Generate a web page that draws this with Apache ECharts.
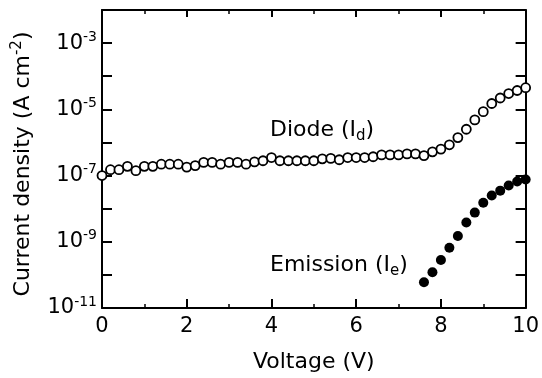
<!DOCTYPE html>
<html>
<head>
<meta charset="utf-8">
<script src="https://cdn.jsdelivr.net/npm/echarts@6/dist/echarts.min.js"></script>
<style>
  html, body { margin: 0; padding: 0; background: #fff; }
  #main { width: 542px; height: 378px; }
</style>
</head>
<body>
<div id="main"></div>
<script>
// voltage steps (V)
let diodeVolts = [0, 0.2, 0.4, 0.6, 0.8, 1.0, 1.2, 1.4, 1.6, 1.8, 2.0, 2.2, 2.4, 2.6, 2.8, 3.0, 3.2, 3.4, 3.6, 3.8,
    4.0, 4.2, 4.4, 4.6, 4.8, 5.0, 5.2, 5.4, 5.6, 5.8, 6.0, 6.2, 6.4, 6.6, 6.8, 7.0, 7.2, 7.4, 7.6, 7.8,
    8.0, 8.2, 8.4, 8.6, 8.8, 9.0, 9.2, 9.4, 9.6, 9.8, 10.0];
// diode current density Id (A cm-2)
let diodeCurrent = [1.0e-7, 1.5e-7, 1.5e-7, 1.9e-7, 1.4e-7, 1.9e-7, 1.9e-7, 2.2e-7, 2.2e-7, 2.2e-7, 1.8e-7, 2.0e-7, 2.5e-7,
    2.5e-7, 2.2e-7, 2.5e-7, 2.5e-7, 2.2e-7, 2.6e-7, 2.8e-7, 3.5e-7, 2.8e-7, 2.8e-7, 2.8e-7, 2.8e-7, 2.8e-7,
    3.2e-7, 3.3e-7, 3.0e-7, 3.5e-7, 3.5e-7, 3.5e-7, 3.7e-7, 4.2e-7, 4.2e-7, 4.2e-7, 4.5e-7, 4.5e-7,
    4.0e-7, 5.2e-7, 6.3e-7, 8.5e-7, 1.4e-6, 2.5e-6, 4.8e-6, 8.5e-6, 1.5e-5, 2.2e-5, 3.0e-5, 3.7e-5, 4.5e-5];
// emission current density Ie (A cm-2)
let emissionVolts = [7.6, 7.8, 8.0, 8.2, 8.4, 8.6, 8.8, 9.0, 9.2, 9.4, 9.6, 9.8, 10.0];
let emissionCurrent = [6.0e-11, 1.2e-10, 2.8e-10, 6.6e-10, 1.5e-9, 3.8e-9, 7.6e-9, 1.5e-8, 2.5e-8, 3.5e-8, 5.0e-8, 6.6e-8, 7.6e-8];

let font = "DejaVu Sans";

function pairs(xs, ys) {
    return xs.map(function (x, i) { return [x, ys[i]]; });
}

let dom = document.getElementById("main");
let myChart = echarts.init(dom, null, { renderer: "canvas" });

let axisLine = { show: true, onZero: false, lineStyle: { color: "#000", width: 2 } };

let option = {
    animation: false,
    backgroundColor: "#fff",
    grid: { left: 102, right: 16, top: 10, bottom: 68 },
    xAxis: [{
        type: "value",
        min: 0,
        max: 10,
        interval: 2,
        position: "bottom",
        name: "Voltage (V)",
        nameLocation: "middle",
        nameGap: 43,
        nameTextStyle: { fontFamily: font, fontSize: 22, color: "#000" },
        axisLine: axisLine,
        axisTick: { inside: true, length: 9, lineStyle: { color: "#000", width: 2 } },
        minorTick: { show: true, splitNumber: 2, length: 4, lineStyle: { color: "#000", width: 1.5 } },
        axisLabel: { margin: 8, fontFamily: font, fontSize: 21, color: "#000" },
        splitLine: { show: false },
    }, {
        type: "value",
        min: 0,
        max: 10,
        interval: 2,
        position: "top",
        axisLine: axisLine,
        axisTick: { inside: true, length: 7, lineStyle: { color: "#000", width: 2 } },
        minorTick: { show: true, splitNumber: 2, length: 4, lineStyle: { color: "#000", width: 1.5 } },
        axisLabel: { show: false },
        splitLine: { show: false },
    }],
    yAxis: [{
        type: "log",
        logBase: 10,
        min: 1e-11,
        max: 1e-2,
        interval: 1,
        position: "left",
        name: "{t|Current density (A cm}{s|-2}{t|)}",
        nameLocation: "middle",
        nameGap: 66,
        nameTextStyle: {
            padding: [0, 10, 0, 0],
            rich: {
                t: { fontFamily: font, fontSize: 22, color: "#000", lineHeight: 26 },
                s: { fontFamily: font, fontSize: 15, color: "#000", lineHeight: 15, verticalAlign: "top" },
            },
        },
        axisLine: axisLine,
        axisTick: { inside: true, length: 10, lineStyle: { color: "#000", width: 2 } },
        axisLabel: {
            margin: 5,
            formatter: function (v) {
                let e = Math.round(Math.log10(v));
                if (e % 2 === 0) return "";
                return "{b|10}{s|" + e + "}";
            },
            rich: {
                b: { fontFamily: font, fontSize: 21, color: "#000", lineHeight: 26 },
                s: { fontFamily: font, fontSize: 14, color: "#000", lineHeight: 14, verticalAlign: "top" },
            },
        },
        splitLine: { show: false },
    }, {
        type: "log",
        logBase: 10,
        min: 1e-11,
        max: 1e-2,
        interval: 1,
        position: "right",
        axisLine: axisLine,
        axisTick: { inside: true, length: 10, lineStyle: { color: "#000", width: 2 } },
        axisLabel: { show: false },
        splitLine: { show: false },
    }],
    graphic: [{
        type: "text",
        left: 270,
        top: 119,
        style: {
            text: "{a|Diode (I}{s|d}{a|)}",
            rich: {
                a: { fontFamily: font, fontSize: 22, fill: "#000", lineHeight: 28 },
                s: { fontFamily: font, fontSize: 15, fill: "#000", lineHeight: 15, verticalAlign: "bottom" },
            },
        },
    }, {
        type: "text",
        left: 270,
        top: 254,
        style: {
            text: "{a|Emission (I}{s|e}{a|)}",
            rich: {
                a: { fontFamily: font, fontSize: 22, fill: "#000", lineHeight: 28 },
                s: { fontFamily: font, fontSize: 15, fill: "#000", lineHeight: 15, verticalAlign: "bottom" },
            },
        },
    }],
    series: [{
        name: "Diode",
        type: "scatter",
        symbol: "circle",
        symbolSize: 9,
        itemStyle: { color: "#fff", borderColor: "#000", borderWidth: 1.8, opacity: 1 },
        data: pairs(diodeVolts, diodeCurrent),
    }, {
        name: "Emission",
        type: "scatter",
        symbol: "circle",
        symbolSize: 10,
        itemStyle: { color: "#000", opacity: 1 },
        data: pairs(emissionVolts, emissionCurrent),
    }],
};

if (option && typeof option === "object") {
    myChart.setOption(option);
}

window.addEventListener("resize", myChart.resize);
</script>
</body>
</html>
